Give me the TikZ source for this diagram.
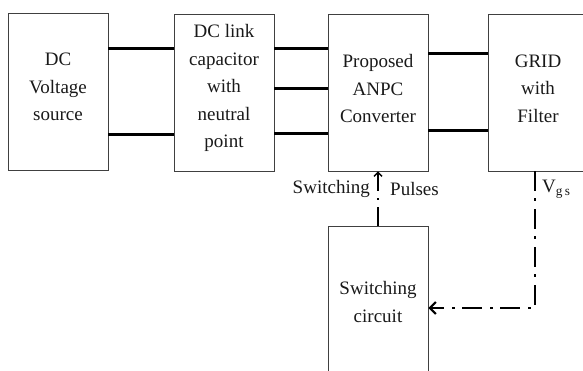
\documentclass[tikz,border=0pt]{standalone}
\usepackage{fontspec}
\setmainfont{Liberation Serif}
\usetikzlibrary{arrows.meta}
\begin{document}
\begin{tikzpicture}[x=1pt,y=-1pt,
  blk/.style={draw=black!75, line width=0.9pt, inner sep=0pt, minimum width=100pt},
  lbl/.style={align=center, font=\fontsize{19}{27.5}\selectfont, inner sep=0pt, text=black!90},
  bus/.style={line width=3pt},
  sig/.style={line width=2.6pt, dash pattern=on 20pt off 7pt on 3pt off 8pt,
    -{Straight Barb[length=6pt,width=12pt,line width=2pt]}},
  pulse/.style={line width=1.6pt, dash pattern=on 19pt off 7pt on 2pt off 7pt,
    -{Straight Barb[length=4pt,width=8pt,line width=1.4pt]}}
]
\useasboundingbox (0,0) rectangle (583,370);
\node[blk, minimum height=157pt] (src) at (58,91.5) {};
\node[blk, minimum height=157pt] (dcl) at (224,92.5) {};
\node[blk, minimum height=157pt] (anpc) at (378,92.5) {};
\node[blk, minimum height=157pt] (grid) at (538,92.5) {};
\node[blk, minimum height=164pt] (swc) at (378,308) {};

\node[lbl] (t1) at (58,87) {DC\\Voltage\\source};
\node[lbl] (t2) at (224,88) {DC link\\capacitor\\with\\neutral\\point};
\node[lbl] (t3) at (378,88.5) {Proposed\\ANPC\\Converter};
\node[lbl] (t4) at (538,88.5) {GRID\\with\\Filter};
\node[lbl] (t5) at (378,302) {Switching\\circuit};

\draw[bus] (src.east |- 0,48) -- (dcl.west |- 0,48);
\draw[bus] (src.east |- 0,134) -- (dcl.west |- 0,134);
\draw[bus] (dcl.east |- 0,48) -- (anpc.west |- 0,48);
\draw[bus] (dcl.east |- 0,88) -- (anpc.west |- 0,88);
\draw[bus] (dcl.east |- 0,133) -- (anpc.west |- 0,133);
\draw[bus] (anpc.east |- 0,53) -- (grid.west |- 0,53);
\draw[bus] (anpc.east |- 0,130) -- (grid.west |- 0,130);

\draw[pulse] (swc.north) -- (anpc.south);
\node[lbl, anchor=east] (sw) at (370,189) {Switching};
\node[lbl, anchor=west] (pu) at (390,189) {Pulses};

\coordinate (vs) at ([xshift=-3pt]grid.south);
\draw[sig] (vs) |- (swc.east);
\node[lbl, anchor=west] (vgs) at (542,189) {V\textsubscript{g\,s}};
\end{tikzpicture}
\end{document}
